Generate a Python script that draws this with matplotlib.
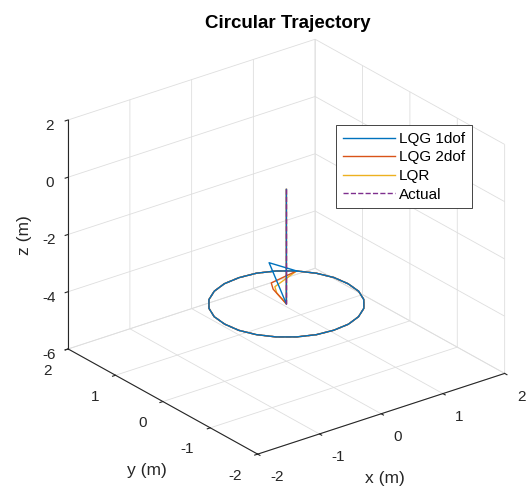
import numpy as np
import matplotlib.pyplot as plt

plt.rcParams['font.family'] = ['Liberation Sans', 'DejaVu Sans']
plt.rcParams['axes.unicode_minus'] = False
plt.rcParams['grid.color'] = '#dedede'
plt.rcParams['grid.linewidth'] = 0.6

# descent from the start point down to the circle centre
descent_x = [0, 0]
descent_y = [0, 0]
descent_z = [0, -4]

# reference circle, radius 1 at z = -4 (15 deg steps, starting at the back)
circle_x = [0.71, 0.5, 0.26, 0, -0.26, -0.5, -0.71, -0.87, -0.97, -1, -0.97, -0.87, -0.71,
            -0.5, -0.26, 0, 0.26, 0.5, 0.71, 0.87, 0.97, 1, 0.97, 0.87, 0.71]
circle_y = [0.71, 0.87, 0.97, 1, 0.97, 0.87, 0.71, 0.5, 0.26, 0, -0.26, -0.5, -0.71,
            -0.87, -0.97, -1, -0.97, -0.87, -0.71, -0.5, -0.26, 0, 0.26, 0.5, 0.71]
circle_z = -4

# transients between end of descent and joining the circle
lqg1_tx = [-0.05]
lqg1_ty = [0.3]
lqg1_tz = [-2.8]
lqg2_tx = [-0.1, 0.1]
lqg2_ty = [0.15, 0.45]
lqg2_tz = [-3.55, -3.75]
lqr_tx = [-0.08, 0.12]
lqr_ty = [0.1, 0.4]
lqr_tz = [-3.65, -3.85]

labels = ['LQG 1dof', 'LQG 2dof', 'LQR', 'Actual']
colors = ['#0072BD', '#D95319', '#EDB120', '#7E2F8E']


def build(tx, ty, tz):
    xs = descent_x + tx + circle_x
    ys = descent_y + ty + circle_y
    zs = descent_z + tz + [circle_z] * len(circle_x)
    return xs, ys, zs


fig = plt.figure(figsize=(5.29, 4.86), dpi=100)
ax = fig.add_axes([0.0628, -0.0285, 0.932, 1.0144], projection='3d', proj_type='ortho',
                  computed_zorder=False)
ax.view_init(elev=25.2, azim=-127.5)
ax.set_box_aspect((1, 1, 0.813))

# actual reference circle sits underneath the controller responses
ax.plot(circle_x, circle_y, [circle_z] * len(circle_x), color=colors[3], lw=1.0, ls='--')
h_lqr, = ax.plot(*build(lqr_tx, lqr_ty, lqr_tz), color=colors[2], lw=1.0)
h_lqg2, = ax.plot(*build(lqg2_tx, lqg2_ty, lqg2_tz), color=colors[1], lw=1.0)
h_lqg1, = ax.plot(*build(lqg1_tx, lqg1_ty, lqg1_tz), color=colors[0], lw=1.0)
h_act, = ax.plot(descent_x, descent_y, descent_z, color=colors[3], lw=1.0, ls='--')

ax.set_xlim(-2, 2)
ax.set_ylim(-2, 2)
ax.set_zlim(-6, 2)
ax.set_xticks([-2, -1, 0, 1, 2])
ax.set_yticks([-2, -1, 0, 1, 2])
ax.set_zticks([-6, -4, -2, 0, 2])

for axis in (ax.xaxis, ax.yaxis, ax.zaxis):
    axis.set_pane_color((1, 1, 1, 1))
    axis.line.set_color('#262626')
    axis.line.set_linewidth(0.8)
    axis._axinfo['tick']['inward_factor'] = 0.15
    axis._axinfo['tick']['outward_factor'] = 0.0
    axis._axinfo['tick']['linewidth'] = {True: 0.8, False: 0.5}
    axis._axinfo['tick']['color'] = '#262626'

ax.tick_params(labelsize=11, colors='#262626', pad=0)
ax.xaxis.set_tick_params(pad=4)
ax.yaxis.set_tick_params(pad=4)
for t in ax.xaxis.get_major_ticks():
    t.label1.set_horizontalalignment('left')
    t.label1.set_verticalalignment('center_baseline')
for t in ax.yaxis.get_major_ticks():
    t.label1.set_horizontalalignment('right')
    t.label1.set_verticalalignment('center_baseline')

fig.text(385 / 529, 1 - 478 / 486, 'x (m)', fontsize=12.5, color='#262626', ha='center', va='center')
fig.text(147 / 529, 1 - 470 / 486, 'y (m)', fontsize=12.5, color='#262626', ha='center', va='center')
fig.text(25 / 529, 1 - 235 / 486, 'z (m)', fontsize=12.5, color='#262626', ha='center', va='center',
         rotation=90)
fig.text(288 / 529, 1 - 23 / 486, 'Circular Trajectory', fontsize=13.5, fontweight='bold',
         ha='center', va='center')

leg = ax.legend([h_lqg1, h_lqg2, h_lqr, h_act], labels,
                loc='upper left', bbox_to_anchor=(336 / 529, 1 - 125 / 486),
                bbox_transform=fig.transFigure, fontsize=11, fancybox=False,
                edgecolor='#262626', framealpha=1, handlelength=3.4, borderaxespad=0,
                borderpad=0.45, labelspacing=0.3, handletextpad=0.25)
leg.get_frame().set_linewidth(0.6)

fig.savefig('out.png', dpi=100)
